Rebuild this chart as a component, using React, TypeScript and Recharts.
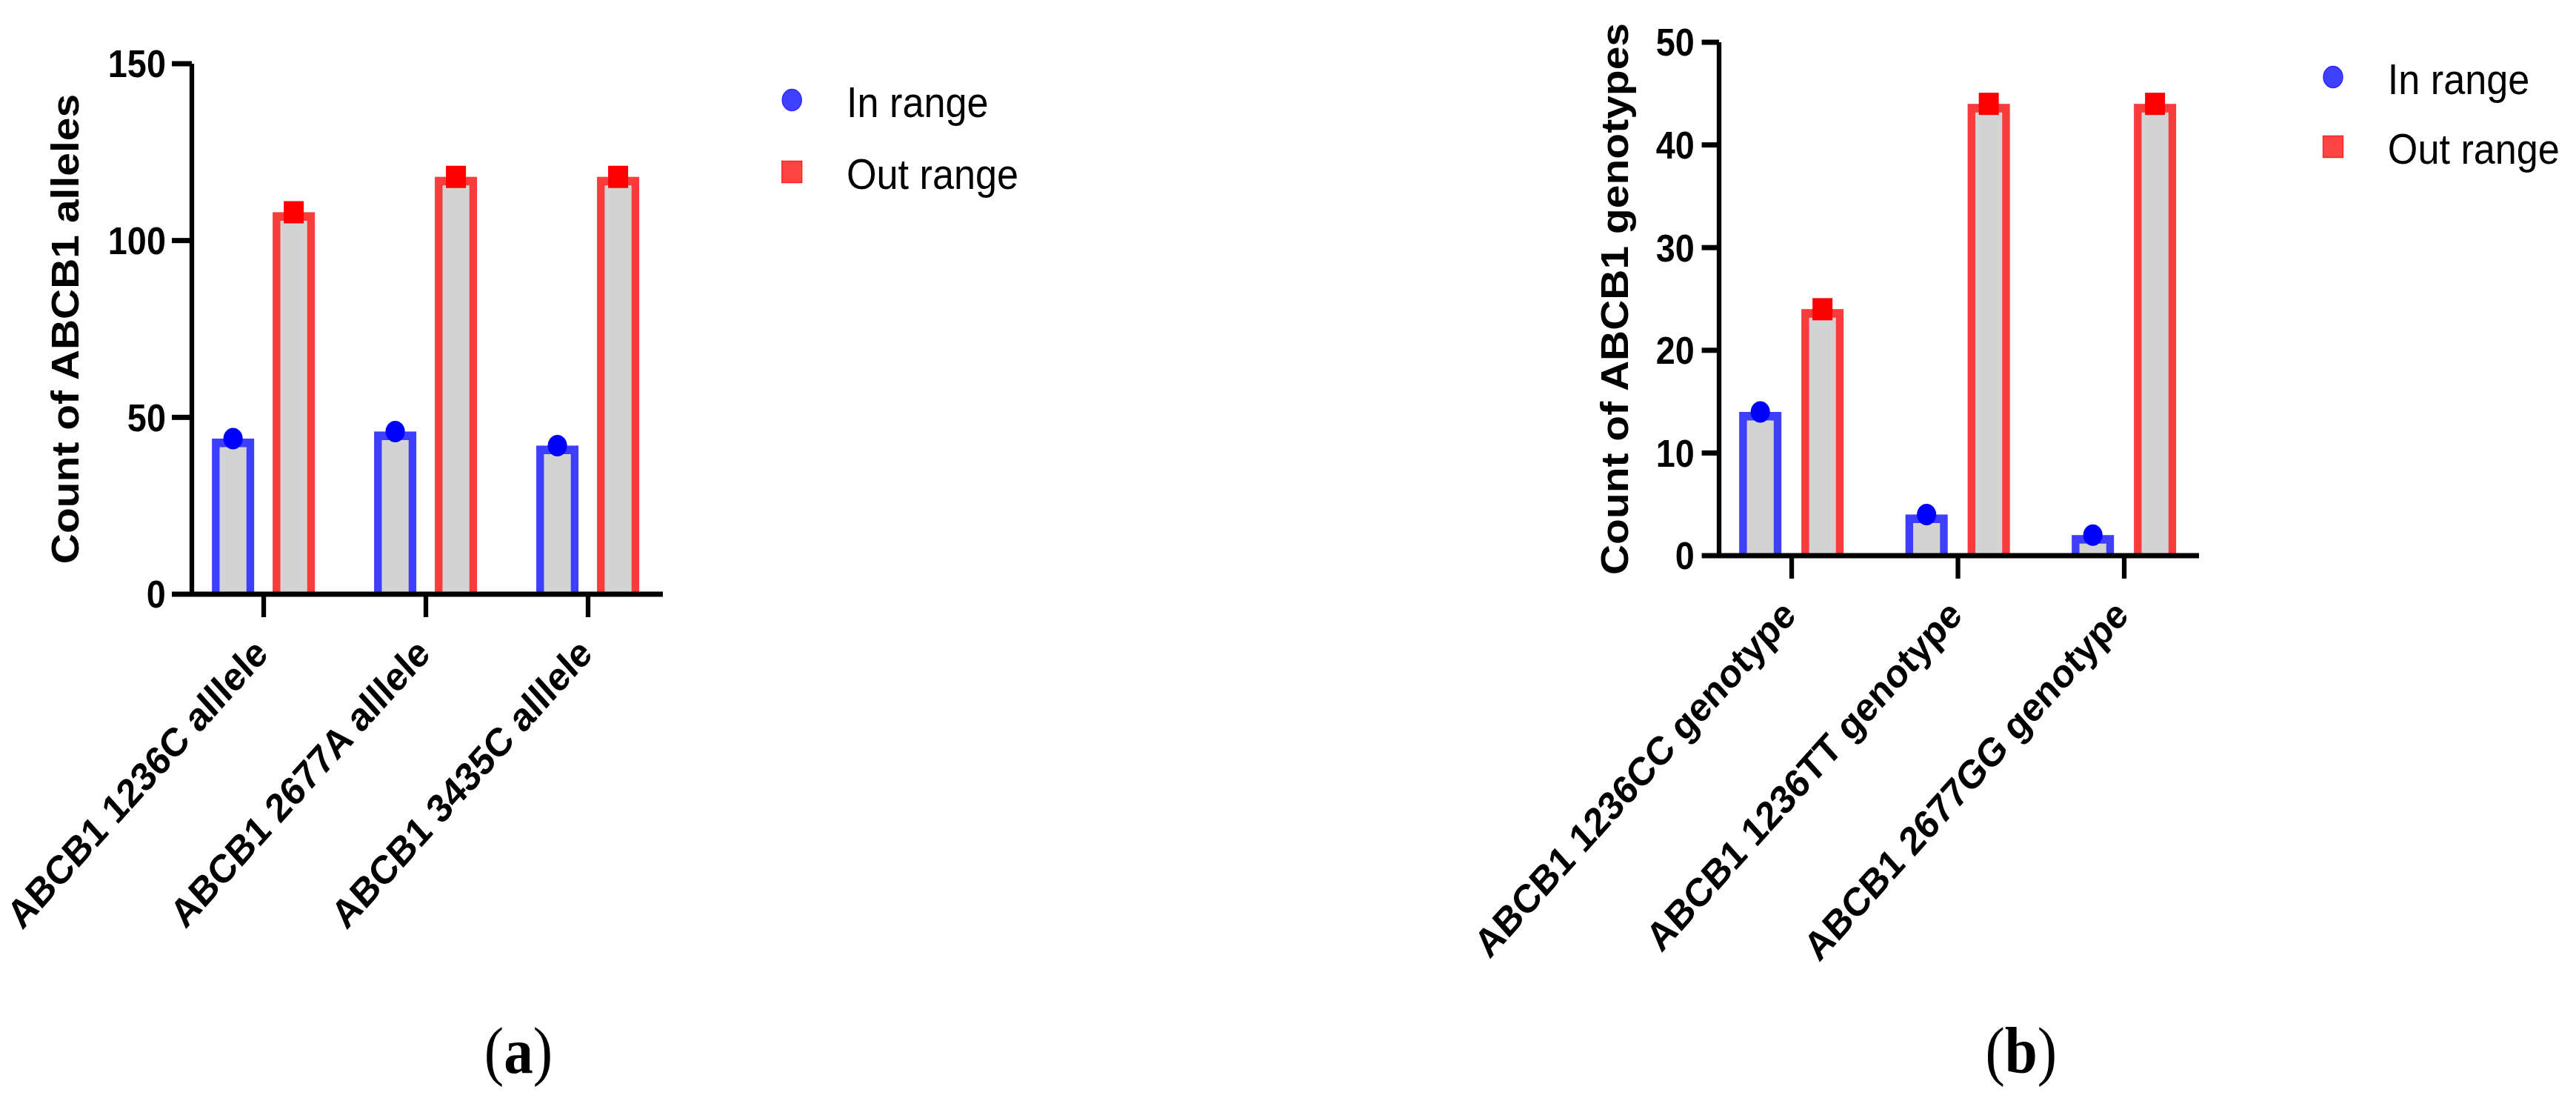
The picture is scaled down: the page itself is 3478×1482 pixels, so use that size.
import React from 'react';
import { BarChart, Bar, XAxis, YAxis, Legend } from 'recharts';

// ---------- data ----------
const alleleCategories = ['ABCB1 1236C alllele', 'ABCB1 2677A alllele', 'ABCB1 3435C alllele'];
const alleleInRange = [44, 46, 42];
const alleleOutRange = [108, 118, 118];
const alleleTicks = [0, 50, 100, 150];

const genotypeCategories = ['ABCB1 1236CC genotype', 'ABCB1 1236TT genotype', 'ABCB1 2677GG genotype'];
const genotypeInRange = [14, 4, 2];
const genotypeOutRange = [24, 44, 44];
const genotypeTicks = [0, 10, 20, 30, 40, 50];

const seriesNames = ['In range', 'Out range'];

// ---------- styles ----------
const SQUISH = 0.9;
const FULL_W = 3478 / SQUISH;
const H = 1482;
const SANS = '"Liberation Sans", Arial, Helvetica, sans-serif';
const SERIF = '"Liberation Serif", "Times New Roman", serif';
const FILL = '#d3d3d4';
const IN_STROKE = '#3e3eff';
const IN_MARK = '#0000ff';
const OUT_STROKE = '#f83c3c';
const OUT_MARK = '#ff0000';
const SW = 11.5;
const AXIS_W = 7;

const buildData = (cats: string[], a: number[], b: number[]) =>
  cats.map((c, i) => ({ name: c, inRange: a[i], outRange: b[i] }));

const alleleData = buildData(alleleCategories, alleleInRange, alleleOutRange);
const genotypeData = buildData(genotypeCategories, genotypeInRange, genotypeOutRange);

const makeShape = (stroke: string, kind: 'circle' | 'square') => (props: any) => {
  const { x, y, width, height } = props;
  if (x == null || y == null) return null;
  const cx = x + width / 2;
  const bottom = y + height;
  return (
    <g>
      <rect x={x} y={y} width={width} height={height} fill={FILL} />
      <path
        d={`M${x + SW / 2},${bottom} V${y + SW / 2} H${x + width - SW / 2} V${bottom}`}
        fill="none"
        stroke={stroke}
        strokeWidth={SW}
        strokeLinejoin="miter"
      />
      {kind === 'circle' ? (
        <circle cx={cx} cy={y} r={14.5} fill={IN_MARK} />
      ) : (
        <rect x={cx - 15} y={y - 15} width={30} height={30} fill={OUT_MARK} />
      )}
    </g>
  );
};

const inShape = makeShape(IN_STROKE, 'circle');
const outShape = makeShape(OUT_STROKE, 'square');

const XTick = (props: any) => {
  const { x, y, payload } = props;
  const ax = x + 9;
  return (
    <text
      x={ax}
      y={y}
      transform={`rotate(-45, ${ax}, ${y})`}
      textAnchor="end"
      fontFamily={SANS}
      fontWeight={700}
      fontSize={54}
      fill="#000"
    >
      {payload.value}
    </text>
  );
};

const yTitle = (text: string, baseX: number) => (props: any) => {
  const vb = props.viewBox || {};
  const cx = (vb.x || 0) + baseX;
  const cy = (vb.y || 0) + (vb.height || 0) / 2;
  return (
    <text
      x={cx}
      y={cy}
      transform={`rotate(-90, ${cx}, ${cy})`}
      textAnchor="middle"
      fontFamily={SANS}
      fontWeight={700}
      fontSize={57}
      fill="#000"
    >
      {text}
    </text>
  );
};

const makeLegend = (rowY: number[]) => (props: any) => {
  const payload = props.payload || [];
  return (
    <svg width={420} height={320} style={{ overflow: 'visible' }}>
      {payload.map((p: any, i: number) => {
        const cy = rowY[i];
        return (
          <g key={i}>
            {i === 0 ? (
              <circle cx={38} cy={cy} r={14.5} fill="#4040ff" stroke="#2a2aff" strokeWidth={1.5} />
            ) : (
              <rect x={23} y={cy - 14.5} width={30} height={29} fill="#ff4444" stroke="#ff2222" strokeWidth={1.5} />
            )}
            <text x={120} y={cy + 23} fontFamily={SANS} fontSize={58} fill="#000">
              {p.value}
            </text>
          </g>
        );
      })}
    </svg>
  );
};

const axisLine = { stroke: '#000', strokeWidth: AXIS_W };
const tickLine = { stroke: '#000', strokeWidth: AXIS_W };
const yTickStyle = { fontFamily: SANS, fontWeight: 700, fontSize: 52, fill: '#000' };

function AlleleChart() {
  return (
    <BarChart
      width={1600}
      height={H}
      data={alleleData}
      margin={{ top: 86, right: 605.6, bottom: 380, left: 0 }}
      barSize={63.3}
      barGap={27.8}
    >
      <XAxis
        dataKey="name"
        type="category"
        interval={0}
        height={300}
        padding={{ left: -13.85, right: -9.45 }}
        axisLine={axisLine}
        tickLine={tickLine}
        tickSize={31}
        tickMargin={52}
        tick={<XTick />}
      />
      <YAxis
        type="number"
        domain={[0, 150]}
        ticks={alleleTicks}
        width={287.8}
        axisLine={axisLine}
        tickLine={tickLine}
        tickSize={30}
        tickMargin={9}
        tick={yTickStyle}
        label={yTitle('Count of ABCB1 alleles', 117.8)}
      />
      <Legend
        layout="vertical"
        align="center"
        verticalAlign="middle"
        wrapperStyle={{ position: 'absolute', left: 1150, top: 0, width: 420, height: 320 }}
        content={makeLegend([135, 232])}
      />
      <Bar dataKey="inRange" name={seriesNames[0]} fill={IN_STROKE} shape={inShape} isAnimationActive={false} />
      <Bar dataKey="outRange" name={seriesNames[1]} fill={OUT_STROKE} shape={outShape} isAnimationActive={false} />
    </BarChart>
  );
}

function GenotypeChart() {
  return (
    <BarChart
      width={1714.4}
      height={H}
      data={genotypeData}
      margin={{ top: 57, right: 565.5, bottom: 432, left: 0 }}
      barSize={63.3}
      barGap={30}
    >
      <XAxis
        dataKey="name"
        type="category"
        interval={0}
        height={300}
        padding={{ left: -15.8, right: -12.55 }}
        axisLine={axisLine}
        tickLine={tickLine}
        tickSize={31}
        tickMargin={52}
        tick={<XTick />}
      />
      <YAxis
        type="number"
        domain={[0, 50]}
        ticks={genotypeTicks}
        width={428.9}
        axisLine={axisLine}
        tickLine={tickLine}
        tickSize={26}
        tickMargin={11}
        tick={yTickStyle}
        label={yTitle('Count of ABCB1 genotypes', 292.2)}
      />
      <Legend
        layout="vertical"
        align="center"
        verticalAlign="middle"
        wrapperStyle={{ position: 'absolute', left: 1312.2, top: 0, width: 420, height: 320 }}
        content={makeLegend([104, 198])}
      />
      <Bar dataKey="inRange" name={seriesNames[0]} fill={IN_STROKE} shape={inShape} isAnimationActive={false} />
      <Bar dataKey="outRange" name={seriesNames[1]} fill={OUT_STROKE} shape={outShape} isAnimationActive={false} />
    </BarChart>
  );
}

export default function App() {
  return (
    <div
      style={{
        position: 'absolute',
        left: 0,
        top: 0,
        width: 3478,
        height: H,
        overflow: 'hidden',
        background: '#fff',
      }}
    >
      <div
        style={{
          position: 'absolute',
          left: 0,
          top: 0,
          width: FULL_W,
          height: H,
          transform: `scaleX(${SQUISH})`,
          transformOrigin: '0 0',
        }}
      >
        <div style={{ position: 'absolute', left: 0, top: 0 }}>
          <AlleleChart />
        </div>
        <div style={{ position: 'absolute', left: 2150, top: 0 }}>
          <GenotypeChart />
        </div>
        <svg
          width={FULL_W}
          height={H}
          style={{ position: 'absolute', left: 0, top: 0, pointerEvents: 'none' }}
        >
          <text x={777.8} y={1448} textAnchor="middle" fontFamily={SERIF} fontSize={88} fill="#000">
            (<tspan fontWeight={700}>a</tspan>)
          </text>
          <text x={3032} y={1448} textAnchor="middle" fontFamily={SERIF} fontSize={88} fill="#000">
            (<tspan fontWeight={700}>b</tspan>)
          </text>
        </svg>
      </div>
    </div>
  );
}
